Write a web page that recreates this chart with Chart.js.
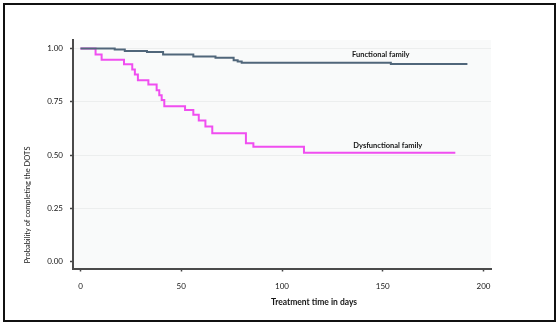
<!DOCTYPE html>
<html>
<head>
<meta charset="utf-8">
<script src="https://cdn.jsdelivr.net/npm/chart.js@4/dist/chart.umd.min.js"></script>
<style>
  html, body { margin: 0; padding: 0; background: #fff; }
  #wrap { position: relative; width: 559px; height: 325px; }
  canvas { display: block; }
</style>
</head>
<body>
<div id="wrap"><canvas id="c" width="559" height="325"></canvas></div>
<script>
// ---- data ----
const functionalDays = [0, 17, 22, 33, 41, 56, 67, 76, 78, 80, 154, 192];
const functionalSurv = [1.000, 0.996, 0.988, 0.984, 0.972, 0.963, 0.957, 0.945, 0.939, 0.933, 0.927, 0.927];
const dysfunctionalDays = [0, 7.5, 10.5, 21.6, 25.7, 27, 28.5, 33.7, 37.8, 39.1, 40.3, 41.6, 51.9, 56, 58.7, 62, 65.4, 82.1, 85.8, 110.9, 186];
const dysfunctionalSurv = [1.000, 0.972, 0.948, 0.926, 0.902, 0.878, 0.851, 0.831, 0.805, 0.781, 0.759, 0.729, 0.712, 0.690, 0.663, 0.635, 0.603, 0.556, 0.540, 0.511, 0.511];
const xTicks = [0, 50, 100, 150, 200];
const yTicks = [0, 0.25, 0.5, 0.75, 1.0];
const seriesNames = ['Functional family', 'Dysfunctional family'];
const xTitle = 'Treatment time in days';
const yTitle = 'Probability of completing the DOTS';

const FONT = 'Lato, "Liberation Sans", sans-serif';
const TXT = '#151515';

function pts(xs, ys) { return xs.map((x, i) => ({ x: x, y: ys[i] })); }

const framePlugin = {
  id: 'frame',
  beforeDraw(chart) {
    const { ctx, chartArea: a } = chart;
    ctx.save();
    ctx.fillStyle = '#fff';
    ctx.fillRect(0, 0, chart.width, chart.height);
    ctx.fillStyle = '#f9fafa';
    ctx.fillRect(a.left, a.top, a.right - a.left, a.bottom - a.top);
    ctx.restore();
  },
  afterDraw(chart) {
    const { ctx, chartArea: a, scales } = chart;
    ctx.save();
    // outer frame
    ctx.strokeStyle = '#111';
    ctx.lineWidth = 2;
    ctx.strokeRect(4, 4, 551, 317);
    // series labels
    ctx.fillStyle = TXT;
    ctx.font = 'bold 7.5px ' + FONT;
    ctx.textAlign = 'center';
    ctx.textBaseline = 'middle';
    const lab = chart.options.plugins.frame.labels;
    lab.forEach(l => {
      ctx.fillText(l.text, scales.x.getPixelForValue(l.x), scales.y.getPixelForValue(l.y));
    });
    // x title
    ctx.font = 'bold 8.5px ' + FONT;
    ctx.fillText(xTitle, a.left + 241, 302);
    // y title
    ctx.font = '7.5px ' + FONT;
    ctx.translate(28, 205);
    ctx.rotate(-Math.PI / 2);
    ctx.fillText(yTitle, 0, 0);
    ctx.restore();
  }
};

new Chart(document.getElementById('c'), {
  type: 'line',
  data: {
    datasets: [
      {
        label: seriesNames[0],
        data: pts(functionalDays, functionalSurv),
        borderColor: '#50667a',
        borderWidth: 2,
        stepped: true,
        pointRadius: 0,
        fill: false
      },
      {
        label: seriesNames[1],
        data: pts(dysfunctionalDays, dysfunctionalSurv),
        borderColor: '#f04ef0',
        borderWidth: 2,
        stepped: true,
        pointRadius: 0,
        fill: false
      }
    ]
  },
  options: {
    responsive: false,
    animation: false,
    devicePixelRatio: 1,
    layout: { padding: { top: 40, right: 68, bottom: 0, left: 0 } },
    plugins: {
      legend: { display: false },
      tooltip: { enabled: false },
      frame: {
        labels: [
          { text: seriesNames[0], x: 149, y: 0.974 },
          { text: seriesNames[1], x: 152.5, y: 0.543 }
        ]
      }
    },
    scales: {
      x: {
        type: 'linear',
        min: -3.7,
        max: 203.7,
        afterBuildTicks: s => { s.ticks = xTicks.map(v => ({ value: v })); },
        afterFit: s => { s.height = 56.5; },
        ticks: {
          color: TXT,
          font: { family: FONT, size: 8 },
          padding: 10,
          maxRotation: 0,
          callback: v => String(v)
        },
        grid: {
          drawOnChartArea: false,
          drawTicks: true,
          tickLength: 3,
          tickColor: '#444',
          tickWidth: 1.5
        },
        border: { display: true, color: '#4a4a4a', width: 2 }
      },
      y: {
        type: 'linear',
        min: -0.031,
        max: 1.04,
        afterBuildTicks: s => { s.ticks = yTicks.map(v => ({ value: v })); },
        afterFit: s => { s.width = 73; },
        ticks: {
          color: TXT,
          font: { family: FONT, size: 8 },
          padding: 7,
          callback: v => Number(v).toFixed(2)
        },
        grid: {
          color: ctx => (ctx.tick && ctx.tick.value === 0) ? 'rgba(0,0,0,0)' : '#eceeee',
          lineWidth: 1,
          drawTicks: true,
          tickLength: 3,
          tickColor: '#444',
          tickWidth: 1.5
        },
        border: { display: true, color: '#4a4a4a', width: 2 }
      }
    }
  },
  plugins: [framePlugin]
});
</script>
</body>
</html>
